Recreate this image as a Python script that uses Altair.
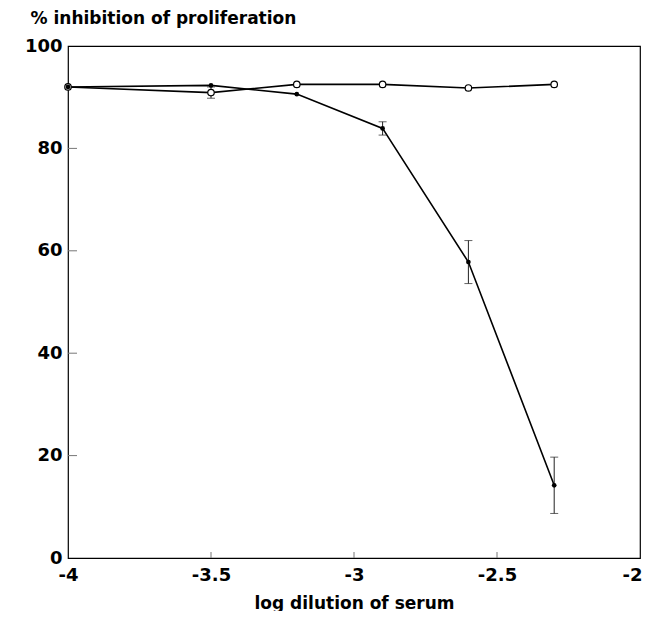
import altair as alt
import pandas as pd

# data
x_vals = [-4.0, -3.5, -3.2, -2.9, -2.6, -2.3]
filled_vals = [92.0, 92.3, 90.6, 83.9, 57.8, 14.2]
filled_err = [0.0, 0.0, 0.0, 1.3, 4.2, 5.5]
open_vals = [92.0, 90.9, 92.5, 92.5, 91.8, 92.5]
open_err = [0.0, 1.1, 0.0, 0.0, 0.0, 0.0]

x_ticks = [-4, -3.5, -3, -2.5, -2]
y_ticks = [0, 20, 40, 60, 80, 100]
x_inner_ticks = [-3.5, -3, -2.5]
y_inner_ticks = [20, 40, 60, 80]

W, H = 572, 512
FONT = "DejaVu Sans"

rows = []
for s, vals, errs in (("filled", filled_vals, filled_err), ("open", open_vals, open_err)):
    for x, v, e in zip(x_vals, vals, errs):
        rows.append({"series": s, "x": x, "y": v, "lo": v - e, "hi": v + e, "err": e})
df = pd.DataFrame(rows)
err_df = df[df["err"] > 0]

xscale = alt.Scale(domain=[-4, -2], nice=False, zero=False)
yscale = alt.Scale(domain=[0, 100], nice=False)

xax = alt.Axis(
    values=x_ticks, labelExpr="toString(datum.value)", grid=False, ticks=False, domain=False,
    labelFont=FONT, labelFontSize=18, labelFontWeight="bold", labelColor="black",
    labelPadding=8, labelFlush=False,
    labelAlign={"expr": "datum.value == -2 ? 'right' : 'center'"},
    labelOffset={"expr": "datum.value == -2 ? 2 : 0"},
    title="log dilution of serum", titleFont=FONT, titleFontSize=17, titleFontWeight="bold",
    titleColor="black", titleY=45, titleBaseline="middle",
)
yax = alt.Axis(
    values=y_ticks, grid=False, ticks=False, domain=False,
    labelFont=FONT, labelFontSize=18, labelFontWeight="bold", labelColor="black",
    labelPadding=6, labelFlush=False, labelBaseline="middle",
    title="% inhibition of proliferation", titleFont=FONT, titleFontSize=17,
    titleFontWeight="bold", titleColor="black", titleAngle=0, titleAlign="left",
    titleBaseline="middle", titleX=-38, titleY=-28,
)

base = alt.Chart(df)

lines = base.mark_line(color="black", strokeWidth=1.6).encode(
    x=alt.X("x:Q", scale=xscale, axis=xax),
    y=alt.Y("y:Q", scale=yscale, axis=yax),
    detail="series:N",
)

err_base = alt.Chart(err_df)
err_rule = err_base.mark_rule(color="#222", strokeWidth=1).encode(
    x="x:Q", y="lo:Q", y2="hi:Q"
)
cap_lo = err_base.mark_tick(color="#222", orient="horizontal", size=8, thickness=1).encode(
    x="x:Q", y="lo:Q"
)
cap_hi = err_base.mark_tick(color="#222", orient="horizontal", size=8, thickness=1).encode(
    x="x:Q", y="hi:Q"
)

open_pts = alt.Chart(df[df["series"] == "open"]).mark_point(
    shape="circle", filled=True, fill="white", stroke="black", strokeWidth=1.2, size=42, opacity=1
).encode(x="x:Q", y="y:Q")

filled_pts = alt.Chart(df[df["series"] == "filled"]).mark_point(
    shape="circle", filled=True, color="black", size=22, opacity=1
).encode(x="x:Q", y="y:Q")

xt = alt.Chart(pd.DataFrame({"t": x_inner_ticks})).mark_rule(color="#777", strokeWidth=1).encode(
    x="t:Q", y=alt.value(H), y2=alt.value(H - 6)
)
yt = alt.Chart(pd.DataFrame({"t": y_inner_ticks})).mark_rule(color="#777", strokeWidth=1).encode(
    y="t:Q", x=alt.value(0), x2=alt.value(9)
)

chart = alt.layer(xt, yt, lines, err_rule, cap_lo, cap_hi, open_pts, filled_pts).properties(
    width=W, height=H,
    autosize=alt.AutoSizeParams(type="none"),
    padding={"left": 60, "top": 38, "right": 2, "bottom": 53},
    background="white",
).configure_view(stroke="black", strokeWidth=1.2)

chart.save("out.html", embed_options={"renderer": "svg", "actions": False})
